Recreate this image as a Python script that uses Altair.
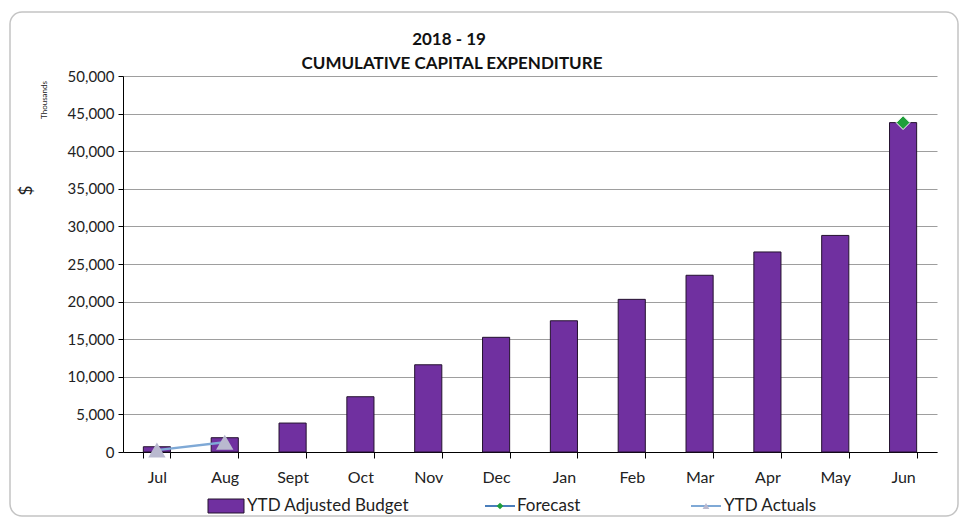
import altair as alt
import pandas as pd

months = ["Jul", "Aug", "Sept", "Oct", "Nov", "Dec", "Jan", "Feb", "Mar", "Apr", "May", "Jun"]
budget = [700, 1900, 3850, 7350, 11600, 15250, 17450, 20300, 23500, 26600, 28800, 43800]
actual_months = ["Jul", "Aug"]
actuals = [250, 1300]
forecast_months = ["Jun"]
forecast = [43800]
y_tick_count = 10
title_lines = ["2018 - 19", "CUMULATIVE CAPITAL EXPENDITURE"]
legend_labels = ["YTD Adjusted Budget", "Forecast", "YTD Actuals"]

FONT = "Lato"
W, H = 814, 376
PAD_L, PAD_T = 123, 76

df_b = pd.DataFrame({"month": months, "value": budget})
df_a = pd.DataFrame({"month": actual_months, "value": actuals})
df_f = pd.DataFrame({"month": forecast_months, "value": forecast})
one = pd.DataFrame({"k": [0]})

xs = alt.Scale(domain=months, paddingInner=0.6, paddingOuter=0.3)
ys = alt.Scale(domain=[0, 50000], nice=False)

x_axis = alt.Axis(labelAngle=0, labelFont=FONT, labelFontSize=16, labelColor="#222",
                  domainColor="#000", tickColor="#000", tickSize=6, tickBand="extent",
                  labelPadding=11, grid=False)
y_axis = alt.Axis(tickCount=y_tick_count, format=",.0f", labelOverlap=False, labelFont=FONT,
                  labelFontSize=15, labelColor="#222", domainColor="#000",
                  tickColor="#000", tickSize=5, labelPadding=4,
                  gridColor="#9e9e9e", gridWidth=1,
                  titleFont=FONT, titleFontSize=17, titleFontWeight="normal",
                  titleAngle=270, titleX=-88, titleY=114, titleColor="#222")


def xe():
    return alt.X("month:N", scale=xs, sort=months, title=None, axis=x_axis)


def ye():
    return alt.Y("value:Q", scale=ys, title="$", axis=y_axis)


bars = alt.Chart(df_b).mark_bar(color="#7030A0", stroke="#24122f", strokeWidth=1).encode(
    x=xe(), y=ye())

act_line = alt.Chart(df_a).mark_line(color="#7FA9D6", strokeWidth=2.5).encode(x=xe(), y=ye())
act_pts = alt.Chart(df_a).mark_point(shape="triangle-up", filled=True, size=300,
                                     color="#b9b9cf", opacity=1).encode(x=xe(), y=ye())

fc_line = alt.Chart(df_f).mark_line(color="#4A7EBB", strokeWidth=2).encode(x=xe(), y=ye())
fc_pts = alt.Chart(df_f).mark_point(shape="diamond", filled=True, size=190, color="#1f9e3a",
                                    stroke="#ffffff", strokeWidth=1, opacity=1).encode(x=xe(), y=ye())

frame = alt.Chart(one).mark_rect(fill=None, stroke="#c4c4c4", strokeWidth=1.5, cornerRadius=12).encode(
    x=alt.value(10 - PAD_L), x2=alt.value(958 - PAD_L),
    y=alt.value(12 - PAD_T), y2=alt.value(516 - PAD_T))

thousands = alt.Chart(one).mark_text(text="Thousands", font=FONT, fontSize=8, angle=270,
                                     color="#222", align="center", baseline="middle").encode(
    x=alt.value(45 - PAD_L), y=alt.value(100 - PAD_T))

t1 = alt.Chart(one).mark_text(text=title_lines[0], font=FONT, fontSize=17, fontWeight="bold",
                              color="#111", align="center", baseline="middle").encode(
    x=alt.value(449 - PAD_L), y=alt.value(40 - PAD_T))
t2 = alt.Chart(one).mark_text(text=title_lines[1], font=FONT, fontSize=17, fontWeight="bold",
                              color="#111", align="center", baseline="middle").encode(
    x=alt.value(452 - PAD_L), y=alt.value(64 - PAD_T))

LY = 506 - PAD_T
FS_LEG = 17
leg_box = alt.Chart(one).mark_rect(fill="#7030A0", stroke="#24122f", strokeWidth=1).encode(
    x=alt.value(208 - PAD_L), x2=alt.value(244 - PAD_L),
    y=alt.value(LY - 7), y2=alt.value(LY + 7))
leg_t1 = alt.Chart(one).mark_text(text=legend_labels[0], font=FONT, fontSize=FS_LEG, color="#222",
                                  align="left", baseline="middle").encode(
    x=alt.value(247 - PAD_L), y=alt.value(LY))
leg_fl = alt.Chart(one).mark_rule(color="#4A7EBB", strokeWidth=2).encode(
    x=alt.value(485 - PAD_L), x2=alt.value(515 - PAD_L), y=alt.value(LY))
leg_fp = alt.Chart(one).mark_point(shape="diamond", filled=True, size=45, color="#1f9e3a",
                                   opacity=1).encode(
    x=alt.value(500 - PAD_L), y=alt.value(LY))
leg_t2 = alt.Chart(one).mark_text(text=legend_labels[1], font=FONT, fontSize=FS_LEG, color="#222",
                                  align="left", baseline="middle").encode(
    x=alt.value(517 - PAD_L), y=alt.value(LY))
leg_al = alt.Chart(one).mark_rule(color="#7FA9D6", strokeWidth=2).encode(
    x=alt.value(691 - PAD_L), x2=alt.value(721 - PAD_L), y=alt.value(LY))
leg_ap = alt.Chart(one).mark_point(shape="triangle-up", filled=True, size=45, color="#b9b9cf",
                                   opacity=1).encode(
    x=alt.value(706 - PAD_L), y=alt.value(LY))
leg_t3 = alt.Chart(one).mark_text(text=legend_labels[2], font=FONT, fontSize=FS_LEG, color="#222",
                                  align="left", baseline="middle").encode(
    x=alt.value(724 - PAD_L), y=alt.value(LY))

chart = alt.layer(
    bars, act_line, act_pts, fc_line, fc_pts, frame, thousands, t1, t2,
    leg_box, leg_t1, leg_fl, leg_fp, leg_t2, leg_al, leg_ap, leg_t3
).properties(
    width=W, height=H,
    autosize=alt.AutoSizeParams(type="none"),
    padding={"left": PAD_L, "top": PAD_T, "right": 963 - PAD_L - W, "bottom": 521 - PAD_T - H},
    background="white"
).configure_view(stroke=None)

chart.save("out.html", embed_options={"renderer": "svg", "actions": False})
